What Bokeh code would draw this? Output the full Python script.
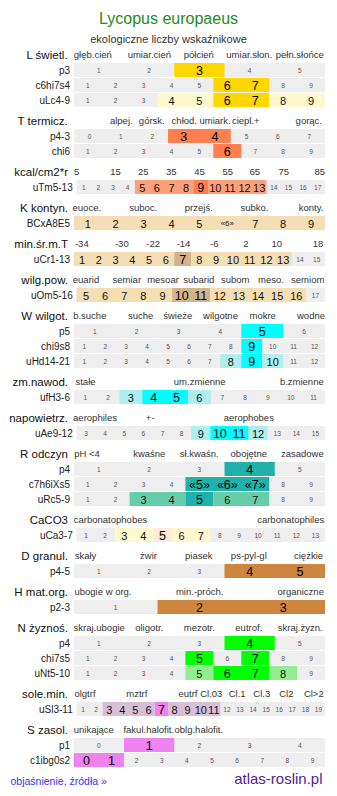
from bokeh.plotting import figure
from bokeh.models import ColumnDataSource, Range1d
from bokeh.core.properties import value, field
from bokeh.embed import file_html
from bokeh.resources import INLINE

FONT = "Liberation Sans"

# ---------------- data ----------------
title = "Lycopus europaeus"
subtitle = "ekologiczne liczby wskaźnikowe"
footer_left = "objaśnienie, źródła »"
footer_right = "atlas-roslin.pl"

def nums(a, b):
    return [str(i) for i in range(a, b + 1)]

block_names = ["L świetl.", "T termicz.", "kcal/cm2*r", "K kontyn.", "min.śr.m.T",
               "wilg.pow.", "W wilgot.", "zm.nawod.", "napowietrz.", "R odczyn",
               "CaCO3", "D granul.", "H mat.org.", "N żyznoś.", "sole.min.", "S zasol."]

block_cats = [
    ["głęb.cień", "umiar.cień", "półcień", "umiar.słon.", "pełn.słońce"],
    ["alpej.", "górsk.", "chłod.", "umiark.", "ciepl.+", "gorąc."],
    ["5", "15", "25", "35", "45", "55", "65", "75", "85"],
    ["euoce.", "suboc.", "przejś.", "subko.", "konty."],
    ["-34", "-30", "-22", "-14", "-6", "2", "10", "18"],
    ["euarid", "semiar", "mesoar", "subarid", "subom", "meso.", "semiom"],
    ["b.suche", "suche", "świeże", "wilgotne", "mokre", "wodne"],
    ["stałe", "um.zmienne", "b.zmienne"],
    ["aerophiles", "+-", "aerophobes"],
    ["pH <4", "kwaśne", "sł.kwaśn.", "obojętne", "zasadowe"],
    ["carbonatophobes", "carbonatophiles"],
    ["skały", "żwir", "piasek", "ps-pyl-gl", "ciężkie"],
    ["ubogie w org.", "min.-próch.", "organiczne"],
    ["skraj.ubogie", "oligotr.", "mezotr.", "eutrof.", "skraj.żyzn."],
    ["olgtrf", "mztrf", "eutrf", "Cl.03", "Cl.1", "Cl.3", "Cl2", "Cl>2"],
    ["unikające", "fakul.halofit.", "oblg.halofit."],
]

# level: 0 = not indicated (grey), 1 = weak, 2 = strong, 3 = weak with small text
block_rows = [
    [("p3", nums(1, 5), [0, 0, 2, 0, 0]),
     ("c6hi7s4", nums(1, 9), [0, 0, 0, 0, 0, 2, 2, 0, 0]),
     ("uLc4-9", nums(1, 9), [0, 0, 0, 1, 1, 2, 2, 1, 1])],
    [("p4-3", nums(0, 7), [0, 0, 0, 2, 2, 0, 0, 0]),
     ("chi6", nums(1, 9), [0, 0, 0, 0, 0, 2, 0, 0, 0])],
    [("uTm5-13", nums(1, 17), [0, 0, 0, 0, 1, 1, 1, 1, 2, 1, 1, 1, 1, 0, 0, 0, 0])],
    [("BCxA8E5", ["1", "2", "3", "4", "5", "«6»", "7", "8", "9"], [1, 1, 1, 1, 1, 3, 1, 1, 1])],
    [("uCr1-13", nums(1, 15), [1, 1, 1, 1, 1, 1, 2, 1, 1, 1, 1, 1, 1, 0, 0])],
    [("uOm5-16", nums(5, 17), [1, 1, 1, 1, 1, 2, 2, 1, 1, 1, 1, 1, 0])],
    [("p5", nums(1, 6), [0, 0, 0, 0, 2, 0]),
     ("chi9s8", nums(1, 12), [0, 0, 0, 0, 0, 0, 0, 0, 2, 0, 0, 0]),
     ("uHd14-21", nums(1, 12), [0, 0, 0, 0, 0, 0, 0, 1, 2, 1, 0, 0])],
    [("ufH3-6", nums(1, 11), [0, 0, 1, 2, 2, 1, 0, 0, 0, 0, 0])],
    [("uAe9-12", nums(3, 15), [0, 0, 0, 0, 0, 0, 1, 2, 2, 1, 0, 0, 0])],
    [("p4", nums(1, 5), [0, 0, 0, 2, 0]),
     ("c7h6iXs5", ["1", "2", "3", "4", "«5»", "«6»", "«7»", "8", "9"], [0, 0, 0, 0, 2, 2, 2, 0, 0]),
     ("uRc5-9", nums(1, 9), [0, 0, 1, 1, 2, 1, 1, 0, 0])],
    [("uCa3-7", nums(1, 13), [0, 0, 1, 1, 2, 1, 1, 0, 0, 0, 0, 0, 0])],
    [("p4-5", nums(1, 5), [0, 0, 0, 2, 2])],
    [("p2-3", nums(1, 3), [0, 2, 2])],
    [("p4", nums(1, 5), [0, 0, 0, 2, 0]),
     ("chi7s5", nums(1, 9), [0, 0, 0, 0, 2, 0, 2, 0, 0]),
     ("uNt5-10", nums(1, 9), [0, 0, 0, 0, 1, 2, 2, 1, 0])],
    [("uSl3-11", nums(1, 19), [0, 0, 1, 1, 1, 1, 2, 1, 1, 1, 1, 0, 0, 0, 0, 0, 0, 0, 0])],
    [("p1", nums(0, 4), [0, 2, 0, 0, 0]),
     ("c1ibg0s2", nums(0, 9), [2, 2, 0, 0, 0, 0, 0, 0, 0, 0])],
]

# (weak colour, strong colour) per block
block_colors = [
    ("#fff8cf", "#ffd700"), ("#ffa07a", "#ff7f50"), ("#ffa07a", "#ff7f50"),
    ("#f5deb3", "#d2b48c"), ("#f5deb3", "#d2b48c"), ("#f5deb3", "#d2b48c"),
    ("#afeeee", "#00ffff"), ("#afeeee", "#00ffff"), ("#afeeee", "#00ffff"),
    ("#66cdaa", "#20b2aa"), ("#fff8cf", "#ffe9d8"), ("#cd853f", "#cd853f"),
    ("#cd853f", "#cd853f"), ("#90ee90", "#00ff00"), ("#d8bfd8", "#ee82ee"),
    ("#ee82ee", "#ee82ee"),
]

# ---------------- layout ----------------
cat_x = [
    [92.3, 148.8, 198.3, 248.8, 299.3],
    [120.8, 151.3, 183.8, 214.5, 245.3, 308.3],
    [76.2, 115, 142.7, 170.7, 199, 227.3, 254.3, 283.3, 319.3],
    [86.3, 142.7, 198.3, 254, 310.5],
    [81.3, 121.3, 152.7, 183, 213.8, 245.5, 276.3, 317.5],
    [85.5, 126.3, 162.5, 198.3, 234.7, 270.5, 307.2],
    [89.3, 140.2, 177.2, 220, 262.2, 310.5],
    [85, 199.2, 301.3],
    [94.5, 149.7, 248.3],
    [86.5, 148.8, 198.7, 248.3, 301.8],
    [110, 290.2],
    [85, 148, 198.3, 248.3, 308],
    [102.5, 199.2, 300.2],
    [98.7, 148.7, 198.8, 248.3, 299.7],
    [84.5, 136.3, 187.5, 210.8, 236.7, 261.3, 285.8, 313.3],
    [93.3, 148.3, 198.3],
]
wide_rows = {"uTm5-13", "uOm5-16", "uAe9-12", "uCa3-7", "uSl3-11"}
X_END = 324.5
GREY = "#eeeeee"

bg = dict(left=[], right=[], top=[], bottom=[])
cells = dict(left=[], right=[], top=[], bottom=[], color=[])
ctext = dict(x=[], y=[], text=[], size=[], color=[])
rlab = dict(x=[], y=[], text=[])
hlab = dict(x=[], y=[], text=[])
clab = dict(x=[], y=[], text=[])

hy = 54.0
for b, name in enumerate(block_names):
    hlab["x"].append(67.5); hlab["y"].append(hy); hlab["text"].append(name)
    for c, cx in zip(block_cats[b], cat_x[b]):
        clab["x"].append(cx); clab["y"].append(hy); clab["text"].append(c)
    weak, strong = block_colors[b]
    rows = block_rows[b]
    for i, (rname, labels, levels) in enumerate(rows):
        yc = hy + 15.5 + 15 * i
        x0 = 76.0 if rname in wide_rows else 73.3
        n = len(labels)
        w = (X_END - x0) / n
        rlab["x"].append(x0 - 3.8); rlab["y"].append(yc); rlab["text"].append(rname)
        bg["left"].append(x0); bg["right"].append(X_END)
        bg["top"].append(yc - 7); bg["bottom"].append(yc + 7)
        # merge runs of equal level
        j = 0
        while j < n:
            lv = levels[j]
            k = j
            while k + 1 < n and levels[k + 1] == lv:
                k += 1
            if lv > 0:
                cells["left"].append(x0 + j * w); cells["right"].append(x0 + (k + 1) * w)
                cells["top"].append(yc - 7); cells["bottom"].append(yc + 7)
                cells["color"].append(strong if lv == 2 else weak)
            j = k + 1
        for j, (lab, lv) in enumerate(zip(labels, levels)):
            ctext["x"].append(x0 + (j + 0.5) * w); ctext["y"].append(yc + 0.5)
            ctext["text"].append(lab)
            if lv == 0:
                ctext["size"].append("6.5px"); ctext["color"].append("#555555")
            elif lv == 1:
                ctext["size"].append("11px"); ctext["color"].append("#111111")
            elif lv == 2:
                ctext["size"].append("12.5px"); ctext["color"].append("#000000")
            else:
                ctext["size"].append("8px"); ctext["color"].append("#222222")
    hy += 36 + 15 * (len(rows) - 1)

# ---------------- figure ----------------
p = figure(width=337, height=796, x_range=Range1d(0, 337), y_range=Range1d(796, 0),
           output_backend="svg", toolbar_location=None, min_border=0,
           x_axis_location=None, y_axis_location=None)
p.grid.visible = False
p.outline_line_color = None
p.background_fill_color = "white"
p.border_fill_color = "white"

p.quad(source=ColumnDataSource(bg), left="left", right="right", top="top", bottom="bottom",
       fill_color=GREY, line_color=None)
p.quad(source=ColumnDataSource(cells), left="left", right="right", top="top", bottom="bottom",
       fill_color="color", line_color=None)

p.text(source=ColumnDataSource(ctext), x="x", y="y", text="text", text_align="center",
       text_baseline="middle", text_font=value(FONT), text_font_size=field("size"),
       text_color=field("color"))
p.text(source=ColumnDataSource(rlab), x="x", y="y", text="text", text_align="right",
       text_baseline="middle", text_font=value(FONT), text_font_size="10px",
       text_color="#222222")
p.text(source=ColumnDataSource(hlab), x="x", y="y", text="text", text_align="right",
       text_baseline="middle", text_font=value(FONT), text_font_size="11.5px",
       text_color="#111111")
p.text(source=ColumnDataSource(clab), x="x", y="y", text="text", text_align="center",
       text_baseline="middle", text_font=value(FONT), text_font_size="9.5px",
       text_color="#333333")

p.text(x=[168], y=[18], text=[title], text_align="center", text_baseline="middle",
       text_font=value(FONT), text_font_size="16px", text_color="#228b22")
p.text(x=[168], y=[38], text=[subtitle], text_align="center", text_baseline="middle",
       text_font=value(FONT), text_font_size="11px", text_color="#333333")
p.text(x=[10], y=[780], text=[footer_left], text_align="left", text_baseline="middle",
       text_font=value(FONT), text_font_size="10.5px", text_color="#3333ff")
p.text(x=[322], y=[778], text=[footer_right], text_align="right", text_baseline="middle",
       text_font=value(FONT), text_font_size="15px", text_color="#552288")

open("out.html", "w").write(file_html(p, INLINE))
